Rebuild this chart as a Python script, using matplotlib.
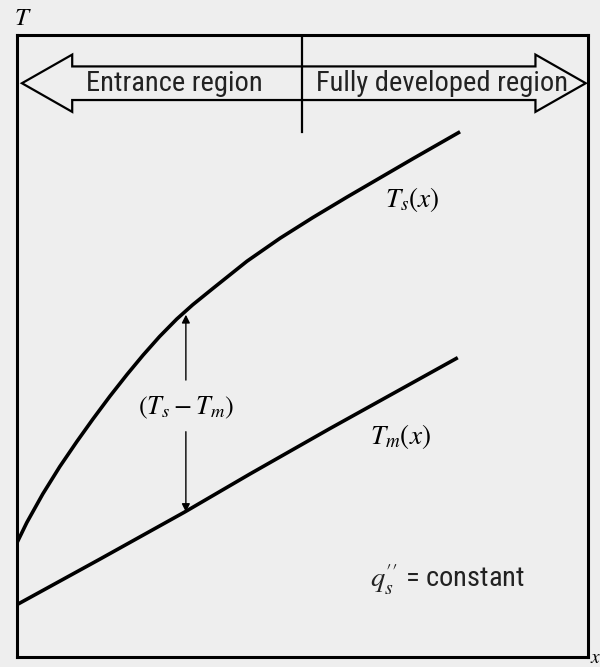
import matplotlib.pyplot as plt
from matplotlib.patches import Polygon

plt.rcParams['mathtext.fontset'] = 'stix'
plt.rcParams['font.family'] = ['Roboto Condensed', 'DejaVu Sans']

# values (x along the tube, T in arbitrary units 0..100)
x_surface = [0, 1.75, 4.55, 7.53, 10.5, 13.3, 16.3, 19.3, 22.1, 25.0,
             28.0, 30.8, 34.3, 40.3, 46.1, 51.8, 57.8, 63.6, 69.4, 77.6]
T_surface = [18.3, 21.6, 26.2, 30.6, 34.6, 38.2, 41.9, 45.4, 48.5, 51.5,
             54.3, 56.6, 59.2, 63.6, 67.3, 70.6, 73.9, 77.0, 80.1, 84.4]
x_mean = [0, 14.5, 29.4, 40.8, 54.8, 77.2]
T_mean = [8.4, 15.7, 23.3, 29.4, 36.7, 48.1]

x_gap = 29.6
x_fd = 50  # start of fully developed region

bg = '#eeeeee'
fig = plt.figure(figsize=(6, 6.67), dpi=100, facecolor=bg)
ax = fig.add_axes([0.028, 0.015, 0.952, 0.933], facecolor=bg)
ax.set_xlim(0, 100)
ax.set_ylim(0, 100)
ax.set_xticks([])
ax.set_yticks([])
for s in ax.spines.values():
    s.set_linewidth(2.2)

ax.plot(x_surface, T_surface, color='black', lw=2.6, solid_capstyle='butt')
ax.plot(x_mean, T_mean, color='black', lw=2.6, solid_capstyle='butt')

# T_s - T_m gap arrow, split around the label
Ts_gap = 55.0
Tm_gap = 23.3
ax.annotate('', xy=(x_gap, Ts_gap), xytext=(x_gap, 44.5),
            arrowprops=dict(arrowstyle='-|>', color='black', lw=1.0,
                            mutation_scale=12, shrinkA=0, shrinkB=0))
ax.annotate('', xy=(x_gap, Tm_gap), xytext=(x_gap, 36.2),
            arrowprops=dict(arrowstyle='-|>', color='black', lw=1.0,
                            mutation_scale=12, shrinkA=0, shrinkB=0))
ax.text(x_gap, 40.0, r'$(T_s - T_m)$', ha='center', va='center', fontsize=19)

# region double arrow
yc, sh, hh, hl = 92.2, 2.7, 4.6, 8.8
pts = [(0.9, yc), (0.9 + hl, yc + hh), (0.9 + hl, yc + sh),
       (99.6 - hl, yc + sh), (99.6 - hl, yc + hh), (99.6, yc),
       (99.6 - hl, yc - hh), (99.6 - hl, yc - sh), (0.9 + hl, yc - sh),
       (0.9 + hl, yc - hh)]
ax.add_patch(Polygon(pts, closed=True, facecolor=bg, edgecolor='black',
                     lw=1.6, zorder=3))
ax.plot([x_fd, x_fd], [100, 84.4], color='black', lw=1.6, zorder=4)
ax.text(27.6, yc, 'Entrance region', ha='center', va='center',
        fontsize=20.5, color='#222222', zorder=5)
ax.text(74.5, yc, 'Fully developed region', ha='center', va='center',
        fontsize=20.5, color='#222222', zorder=5)

ax.text(69.2, 73.5, r'$T_s(x)$', ha='center', va='center', fontsize=19.5)
ax.text(67.1, 35.4, r'$T_m(x)$', ha='center', va='center', fontsize=19.5)
ax.text(61.8, 12.4, r"$q_s^{\prime\prime}$" + ' = constant', ha='left',
        va='center', fontsize=20.5, color='#222222')

ax.text(1.0, 102.7, r'$T$', ha='center', va='center', fontsize=18,
        clip_on=False)
ax.text(100.3, -0.2, r'$x$', ha='left', va='center', fontsize=14,
        clip_on=False)

fig.savefig('out.png', dpi=100, facecolor=bg)
